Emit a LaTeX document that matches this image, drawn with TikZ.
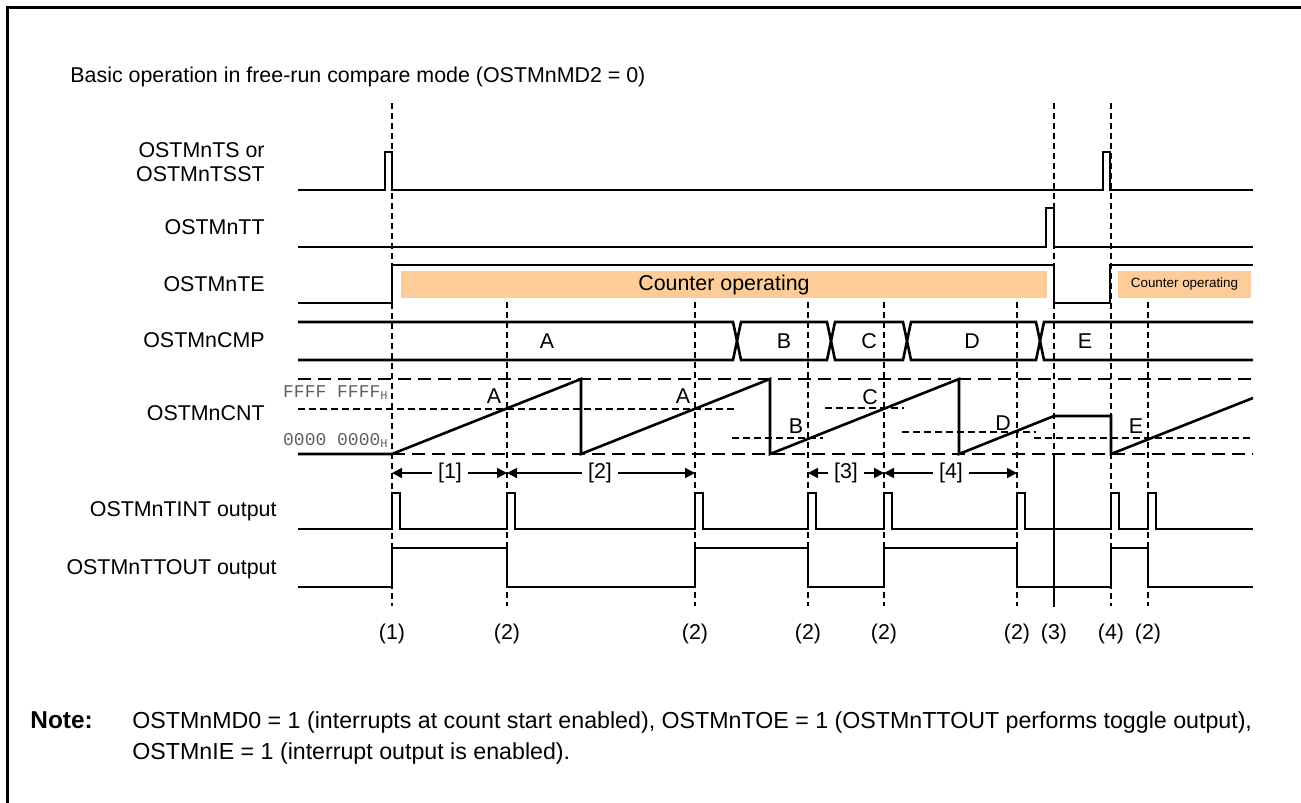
\documentclass[tikz,border=0pt]{standalone}
\usepackage{fontspec}
\setmainfont{Liberation Sans}
\newfontfamily\hexfont{Liberation Mono}
\usetikzlibrary{arrows.meta}
\definecolor{peach}{RGB}{253,204,153}
\definecolor{hexgray}{RGB}{95,95,95}

\begin{document}
\begin{tikzpicture}[x=0.5pt,y=-0.5pt,
  sig/.style={line width=1.3pt, line join=miter},
  vmark/.style={line width=0.9pt, dash pattern=on 3pt off 2pt},
  rail/.style={line width=1pt, dash pattern=on 6.5pt off 3.5pt},
  lvl/.style={line width=0.9pt, dash pattern=on 3.5pt off 2pt},
  brk/.style={line width=0.9pt, -{Triangle[length=5pt,width=5pt]}},
  lbl/.style={font=\fontsize{10.7}{12.8}\selectfont, inner sep=0pt},
  notelbl/.style={font=\fontsize{11.6}{14}\selectfont, inner sep=0pt},
  hexlbl/.style={font=\fontsize{9}{10}\hexfont, text=hexgray, inner sep=0pt},
  runbox/.style={fill=peach, draw=none}]

  \useasboundingbox (0,0) rectangle (1301,803);
  \draw[line width=1.5pt] (7,815) -- (7,7) -- (1315,7);

  \node[lbl, anchor=base west] (title) at (70,82.5) {Basic operation in free-run compare mode (OSTMnMD2 = 0)};

  \node[lbl, anchor=base east] (ts1) at (265,157.5) {OSTMnTS or};
  \node[lbl, anchor=base east] (ts2) at (265,181.5) {OSTMnTSST};
  \node[lbl, anchor=base east] (tt) at (265,234.5) {OSTMnTT};
  \node[lbl, anchor=base east] (te) at (265,291.5) {OSTMnTE};
  \node[lbl, anchor=base east] (cmp) at (265,347) {OSTMnCMP};
  \node[lbl, anchor=base east] (cnt) at (265,420.5) {OSTMnCNT};
  \node[lbl, anchor=base east] (tint) at (277,516.5) {OSTMnTINT output};
  \node[lbl, anchor=base east] (ttout) at (277,574.5) {OSTMnTTOUT output};

  \fill[runbox] (401,271) rectangle (1047,298);
  \node[lbl] (run1) at (724,284.5) {Counter operating};
  \fill[runbox] (1118,271) rectangle (1251,298);
  \node[lbl, font=\fontsize{6.7}{8}\selectfont] (run2) at (1184.5,284.5) {Counter operating};

  \draw[vmark] (392,103) -- (392,606);
  \draw[vmark] (507,302) -- (507,606);
  \draw[vmark] (695,302) -- (695,606);
  \draw[vmark] (808,302) -- (808,606);
  \draw[vmark] (884,302) -- (884,606);
  \draw[vmark] (1017,302) -- (1017,606);
  \draw[vmark] (1054,103) -- (1054,458);
  \draw[vmark, solid] (1054,458) -- (1054,607);
  \draw[vmark] (1111,103) -- (1111,606);
  \draw[vmark] (1148,302) -- (1148,606);

  \draw[sig] (298,190) -- (385,190) -- (385,152) -- (392,152) -- (392,190) -- (1103,190)
    -- (1103,152) -- (1110,152) -- (1110,190) -- (1253,190);
  \draw[sig] (298,247) -- (1046,247) -- (1046,208) -- (1054,208) -- (1054,247) -- (1253,247);
  \draw[sig] (298,303) -- (392,303) -- (392,265) -- (1054,265) -- (1054,303) -- (1110,303)
    -- (1110,265) -- (1253,265);

  \draw[sig] (298,322) -- (733,322) -- (737,341) -- (733,360) -- (298,360);
  \draw[sig] (741,322) -- (827,322) -- (831,341) -- (827,360) -- (741,360) -- (737,341) -- cycle;
  \draw[sig] (835,322) -- (903,322) -- (907,341) -- (903,360) -- (835,360) -- (831,341) -- cycle;
  \draw[sig] (911,322) -- (1036,322) -- (1040,341) -- (1036,360) -- (911,360) -- (907,341) -- cycle;
  \draw[sig] (1253,322) -- (1044,322) -- (1040,341) -- (1044,360) -- (1253,360);
  \node[lbl, anchor=base] (cmpa) at (547,348.5) {A};
  \node[lbl, anchor=base] (cmpb) at (784,348.5) {B};
  \node[lbl, anchor=base] (cmpc) at (869,348.5) {C};
  \node[lbl, anchor=base] (cmpd) at (972,348.5) {D};
  \node[lbl, anchor=base] (cmpe) at (1085,348.5) {E};

  \node[hexlbl, anchor=east] (fff) at (389,393) {FFFF FFFF\textsubscript{H}};
  \node[hexlbl, anchor=east] (zero) at (389,440) {0000 0000\textsubscript{H}};
  \draw[rail] (298,379) -- (1253,379);
  \draw[rail] (392,454) -- (1253,454);
  \draw[lvl] (298,409) -- (735,409);
  \draw[lvl] (732,438) -- (823,438);
  \draw[lvl] (825,408) -- (904,408);
  \draw[lvl] (902,432) -- (1036,432);
  \draw[lvl] (1034,438) -- (1253,438);
  \draw[sig] (298,454) -- (392,454) -- (581,379) -- (581,454) -- (770,379) -- (770,454)
    -- (959,379) -- (959,454) -- (1054,416) -- (1111,416) -- (1111,454) -- (1253,398);
  \node[lbl, anchor=base] (cnta1) at (494,403.5) {A};
  \node[lbl, anchor=base] (cnta2) at (683,403.5) {A};
  \node[lbl, anchor=base] (cntb) at (796,433.5) {B};
  \node[lbl, anchor=base] (cntc) at (870,404.5) {C};
  \node[lbl, anchor=base] (cntd) at (1003,430.5) {D};
  \node[lbl, anchor=base] (cnte) at (1136,433.5) {E};

  \node[lbl, inner xsep=3pt] (span1) at (450,473) {[1]};
  \node[lbl, inner xsep=3pt] (span2) at (600,473) {[2]};
  \node[lbl, inner xsep=3pt] (span3) at (846,473) {[3]};
  \node[lbl, inner xsep=3pt] (span4) at (951,473) {[4]};
  \draw[brk] (span1.west) -- (392,473);
  \draw[brk] (span1.east) -- (507,473);
  \draw[brk] (span2.west) -- (507,473);
  \draw[brk] (span2.east) -- (695,473);
  \draw[brk] (span3.west) -- (808,473);
  \draw[brk] (span3.east) -- (884,473);
  \draw[brk] (span4.west) -- (884,473);
  \draw[brk] (span4.east) -- (1017,473);

  \draw[sig] (298,529) -- (392,529) -- (392,493) -- (400,493) -- (400,529)
    -- (507,529) -- (507,493) -- (515,493) -- (515,529)
    -- (695,529) -- (695,493) -- (703,493) -- (703,529)
    -- (808,529) -- (808,493) -- (816,493) -- (816,529)
    -- (884,529) -- (884,493) -- (892,493) -- (892,529)
    -- (1017,529) -- (1017,493) -- (1025,493) -- (1025,529)
    -- (1111,529) -- (1111,493) -- (1119,493) -- (1119,529)
    -- (1148,529) -- (1148,493) -- (1156,493) -- (1156,529) -- (1253,529);

  \draw[sig] (298,587) -- (392,587) -- (392,548) -- (507,548) -- (507,587) -- (695,587)
    -- (695,548) -- (808,548) -- (808,587) -- (884,587) -- (884,548) -- (1017,548)
    -- (1017,587) -- (1111,587) -- (1111,548) -- (1148,548) -- (1148,587) -- (1253,587);

  \node[lbl] (m1) at (392,634) {(1)};
  \node[lbl] (m2) at (507,634) {(2)};
  \node[lbl] (m3) at (695,634) {(2)};
  \node[lbl] (m4) at (808,634) {(2)};
  \node[lbl] (m5) at (884,634) {(2)};
  \node[lbl] (m6) at (1017,634) {(2)};
  \node[lbl] (m7) at (1054,634) {(3)};
  \node[lbl] (m8) at (1111,634) {(4)};
  \node[lbl] (m9) at (1148,634) {(2)};

  \node[notelbl, anchor=base west, font=\fontsize{12.2}{14}\selectfont\bfseries] (note) at (30,728.5) {Note:};
  \node[notelbl, anchor=base west] (note1) at (132,728.5) {OSTMnMD0 = 1 (interrupts at count start enabled), OSTMnTOE = 1 (OSTMnTTOUT performs toggle output),};
  \node[notelbl, anchor=base west] (note2) at (132,759.5) {OSTMnIE = 1 (interrupt output is enabled).};
\end{tikzpicture}
\end{document}
